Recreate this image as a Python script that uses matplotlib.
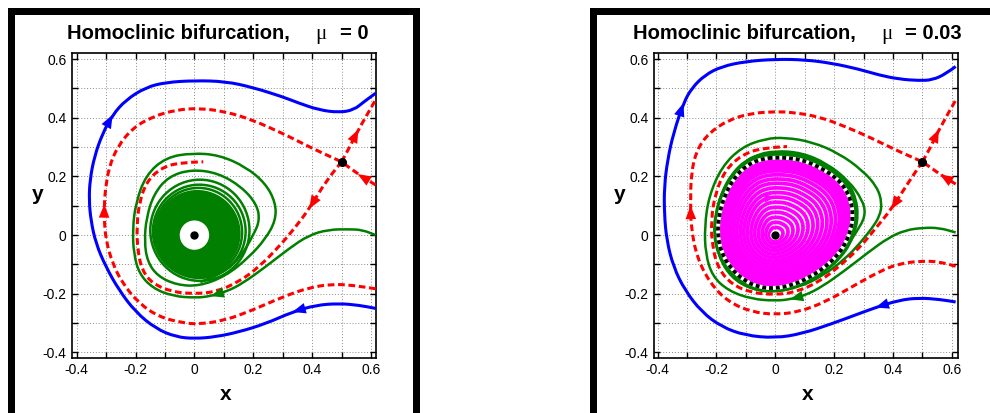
import numpy as np
import matplotlib
matplotlib.use("Agg")
import matplotlib.pyplot as plt
from matplotlib.path import Path
from matplotlib.patches import PathPatch, Ellipse, Circle, Rectangle

plt.rcParams['font.family'] = ['Liberation Sans', 'DejaVu Sans']
plt.rcParams['axes.unicode_minus'] = False

# ---------------------------------------------------------------- data
MU_LABELS = ["0", "0.03"]
TICKS = [-0.4, -0.3, -0.2, -0.1, 0.0, 0.1, 0.2, 0.3, 0.4, 0.5, 0.6]
TICK_LABELS = ["-0.4", "", "-0.2", "", "0", "", "0.2", "", "0.4", "", "0.6"]
SADDLE = (0.5, 0.25)
FOCUS = (0.0, 0.0)

# mu = 0 -------------------------------------------------------------
P1_BLUE = [(0.616, -0.250), (0.559, -0.239), (0.491, -0.233), (0.412, -0.239),
           (0.333, -0.262), (0.242, -0.302), (0.152, -0.330), (0.072, -0.347),
           (0.000, -0.353), (-0.063, -0.347), (-0.131, -0.319), (-0.200, -0.262),
           (-0.256, -0.188), (-0.301, -0.108), (-0.335, -0.028), (-0.352, 0.051),
           (-0.358, 0.120), (-0.355, 0.188), (-0.340, 0.268), (-0.312, 0.347),
           (-0.278, 0.410), (-0.233, 0.461), (-0.165, 0.504), (-0.097, 0.521),
           (0.000, 0.527), (0.106, 0.524), (0.197, 0.504), (0.299, 0.472),
           (0.355, 0.450), (0.423, 0.427), (0.491, 0.418), (0.542, 0.427),
           (0.576, 0.455), (0.616, 0.484)]
P1_BLUE_ARROWS = [4, 20]

P1_RED_STABLE_OUTER = [(0.616, -0.183), (0.537, -0.171), (0.469, -0.167), (0.389, -0.179),
                       (0.299, -0.211), (0.197, -0.256), (0.106, -0.290), (0.016, -0.304),
                       (-0.041, -0.299), (-0.120, -0.279), (-0.188, -0.233), (-0.244, -0.165),
                       (-0.278, -0.097), (-0.301, -0.017), (-0.307, 0.060), (-0.306, 0.105),
                       (-0.303, 0.154), (-0.290, 0.233), (-0.261, 0.302), (-0.211, 0.364),
                       (-0.143, 0.404), (-0.063, 0.427), (0.016, 0.433), (0.106, 0.421),
                       (0.197, 0.393), (0.299, 0.347), (0.355, 0.319), (0.423, 0.285),
                       (0.500, 0.250)]
P1_RED_STABLE_OUTER_ARROWS = [15]
P1_RED_STABLE_RIGHT = [(0.616, 0.171), (0.555, 0.208), (0.500, 0.250)]
P1_RED_UNSTABLE_UP = [(0.500, 0.250), (0.530, 0.305), (0.557, 0.360), (0.616, 0.462)]
P1_RED_UNSTABLE_IN = [(0.500, 0.250), (0.446, 0.182), (0.390, 0.090), (0.344, 0.028),
                      (0.287, -0.040), (0.220, -0.108), (0.152, -0.159), (0.072, -0.194),
                      (0.000, -0.200), (-0.075, -0.194), (-0.143, -0.165), (-0.178, -0.120),
                      (-0.193, -0.051), (-0.196, 0.028), (-0.188, 0.108), (-0.163, 0.182),
                      (-0.115, 0.228), (-0.052, 0.248), (0.030, 0.250)]

P1_GREEN = [(0.616, 0.000), (0.570, 0.018), (0.525, 0.020), (0.457, 0.019),
            (0.389, 0.000), (0.321, -0.046), (0.242, -0.108), (0.163, -0.165),
            (0.110, -0.192), (0.055, -0.208), (0.005, -0.214), (-0.075, -0.208),
            (-0.143, -0.180), (-0.188, -0.131), (-0.206, -0.063), (-0.210, 0.017),
            (-0.200, 0.108), (-0.165, 0.205), (-0.097, 0.265), (-0.007, 0.280),
            (0.084, 0.273), (0.174, 0.233), (0.242, 0.176), (0.276, 0.110),
            (0.276, 0.050), (0.242, -0.012), (0.186, -0.075), (0.106, -0.140),
            (0.016, -0.174), (-0.060, -0.170), (-0.125, -0.140), (-0.160, -0.090),
            (-0.170, -0.020), (-0.163, 0.060), (-0.138, 0.140), (-0.088, 0.200),
            (-0.010, 0.224), (0.080, 0.212), (0.160, 0.165), (0.212, 0.105),
            (0.222, 0.050), (0.200, 0.000), (0.160, -0.070), (0.100, -0.130),
            (0.020, -0.160)]
P1_GREEN_ARROWS = [9]
# inner turns of the green spiral (extents of each turn)
P1_TURN_LEFT = [-0.154, -0.145, -0.139]
P1_TURN_RIGHT = [0.191, 0.178, 0.166]
P1_TURN_BOTTOM = [-0.160, -0.150, -0.146]
P1_TURN_TOP = [0.193, 0.176, 0.165]
# densely wound core: outer extent and the empty disc round the focus
P1_CORE = (-0.137, 0.157, -0.142, 0.154)
P1_HOLE_R = 0.050

# mu = 0.03 ----------------------------------------------------------
P2_BLUE = [(0.613, -0.228), (0.557, -0.219), (0.488, -0.214), (0.420, -0.222),
           (0.341, -0.247), (0.284, -0.268), (0.193, -0.302), (0.091, -0.336),
           (0.000, -0.351), (-0.102, -0.342), (-0.182, -0.313), (-0.250, -0.262),
           (-0.307, -0.188), (-0.346, -0.108), (-0.369, -0.017), (-0.377, 0.074),
           (-0.377, 0.165), (-0.366, 0.256), (-0.346, 0.347), (-0.312, 0.450),
           (-0.284, 0.501), (-0.239, 0.546), (-0.182, 0.575), (-0.102, 0.592),
           (0.000, 0.600), (0.102, 0.598), (0.193, 0.586), (0.284, 0.566),
           (0.352, 0.546), (0.420, 0.532), (0.488, 0.527), (0.534, 0.529),
           (0.580, 0.550), (0.613, 0.575)]
P2_BLUE_ARROWS = [4, 19]

P2_RED_STABLE_OUTER = [(0.613, -0.106), (0.557, -0.091), (0.500, -0.088), (0.420, -0.097),
                       (0.352, -0.125), (0.261, -0.176), (0.170, -0.228), (0.080, -0.262),
                       (0.000, -0.271), (-0.080, -0.262), (-0.159, -0.228), (-0.221, -0.165),
                       (-0.267, -0.074), (-0.286, 0.028), (-0.288, 0.100), (-0.286, 0.211),
                       (-0.267, 0.290), (-0.227, 0.347), (-0.159, 0.393), (-0.080, 0.416),
                       (0.000, 0.421), (0.057, 0.419), (0.148, 0.404), (0.239, 0.370),
                       (0.329, 0.330), (0.420, 0.285), (0.500, 0.250)]
P2_RED_STABLE_OUTER_ARROWS = [14]
P2_RED_STABLE_RIGHT = [(0.613, 0.174), (0.560, 0.207), (0.500, 0.250)]
P2_RED_UNSTABLE_UP = [(0.500, 0.250), (0.528, 0.300), (0.556, 0.360), (0.613, 0.460)]
P2_RED_UNSTABLE_IN = [(0.500, 0.250), (0.454, 0.182), (0.394, 0.088), (0.341, 0.023),
                      (0.284, -0.046), (0.216, -0.108), (0.148, -0.160), (0.068, -0.195),
                      (0.000, -0.203), (-0.080, -0.197), (-0.148, -0.168), (-0.193, -0.115),
                      (-0.214, -0.040), (-0.218, 0.051), (-0.204, 0.142), (-0.170, 0.222),
                      (-0.114, 0.273), (-0.045, 0.298), (0.040, 0.302)]

P2_GREEN = [(0.613, 0.009), (0.557, 0.025), (0.500, 0.025), (0.443, 0.017),
            (0.386, -0.008), (0.318, -0.057), (0.239, -0.119), (0.159, -0.176),
            (0.100, -0.206), (0.050, -0.219), (0.000, -0.224), (-0.080, -0.218),
            (-0.159, -0.190), (-0.214, -0.140), (-0.237, -0.063), (-0.240, 0.028),
            (-0.226, 0.131), (-0.182, 0.233), (-0.114, 0.300), (-0.034, 0.329),
            (0.034, 0.333), (0.125, 0.318), (0.216, 0.279), (0.295, 0.222),
            (0.346, 0.165), (0.363, 0.110), (0.355, 0.065), (0.330, 0.025),
            (0.290, -0.025), (0.239, -0.080), (0.160, -0.140), (0.080, -0.178),
            (0.000, -0.193), (-0.080, -0.186), (-0.150, -0.145), (-0.195, -0.070),
            (-0.207, 0.030), (-0.190, 0.130), (-0.140, 0.220), (-0.070, 0.272),
            (0.000, 0.288), (0.090, 0.281), (0.175, 0.245), (0.250, 0.185),
            (0.296, 0.120), (0.307, 0.075), (0.290, 0.030), (0.255, -0.020)]
P2_GREEN_ARROWS = [9]

# stable limit cycle (clockwise from the top)
P2_CYCLE = [(0.000, 0.265), (0.060, 0.262), (0.110, 0.250), (0.160, 0.226),
            (0.205, 0.197), (0.238, 0.160), (0.258, 0.115), (0.264, 0.065),
            (0.257, 0.020), (0.238, -0.030), (0.210, -0.070), (0.170, -0.108),
            (0.120, -0.142), (0.060, -0.170), (0.000, -0.182), (-0.055, -0.178),
            (-0.105, -0.155), (-0.150, -0.115), (-0.183, -0.060), (-0.196, 0.000),
            (-0.192, 0.065), (-0.172, 0.135), (-0.140, 0.195), (-0.095, 0.240),
            (-0.045, 0.260)]
# turns approaching the cycle from outside / inside (relative size)
P2_OUTER_TURNS = [1.065, 1.050, 1.038, 1.028]
P2_INNER_TURNS = [0.100, 0.165, 0.230, 0.295, 0.360, 0.425, 0.490, 0.550, 0.610,
                  0.670, 0.725, 0.780, 0.830, 0.870, 0.905, 0.935, 0.955, 0.970, 0.985]
P2_INNER_ARROW_TURN = 6
P2_HOLE_R = 0.017

# ---------------------------------------------------------------- style
BLUE = "#0000ff"
RED = "#ff0000"
GREEN = "#007f00"
MAGENTA = "#ff00ff"
W, H = 990, 413


def smooth_path(pts, closed=False):
    p = np.asarray(pts, float)
    if closed:
        mids = 0.5 * (p + np.roll(p, -1, axis=0))
        verts = [mids[-1]]
        codes = [Path.MOVETO]
        for i in range(len(p)):
            verts += [p[i], mids[i]]
            codes += [Path.CURVE3, Path.CURVE3]
        return Path(verts, codes)
    if len(p) == 2:
        return Path([p[0], p[1]], [Path.MOVETO, Path.LINETO])
    verts = [p[0], 0.5 * (p[0] + p[1])]
    codes = [Path.MOVETO, Path.LINETO]
    n = len(p)
    for i in range(1, n - 1):
        end = 0.5 * (p[i] + p[i + 1]) if i < n - 2 else p[i + 1]
        verts += [p[i], end]
        codes += [Path.CURVE3, Path.CURVE3]
    return Path(verts, codes)


def curve(ax, pts, color, lw, dashed=False, closed=False, z=3):
    ls = (0, (2.2, 1.2)) if dashed else "solid"
    ax.add_patch(PathPatch(smooth_path(pts, closed), fill=False, edgecolor=color,
                           lw=lw, linestyle=ls, zorder=z, joinstyle="round"))


def arrow(ax, pts, i, color, size=16, z=6):
    tip = np.array(pts[i], float)
    prev = np.array(pts[i - 1], float)
    d = tip - prev
    d /= np.hypot(*d)
    ax.annotate("", xy=tip, xytext=tip - 0.035 * d, zorder=z,
                arrowprops=dict(arrowstyle="-|>,head_length=0.6,head_width=0.24",
                                color=color, lw=0.0, shrinkA=0, shrinkB=0,
                                mutation_scale=size))


def scaled(shape, s):
    return [(s * x, s * y) for x, y in shape]


def setup_axes(ax, xlim, ylim):
    ax.set_xlim(*xlim)
    ax.set_ylim(*ylim)
    ax.set_xticks(TICKS)
    ax.set_yticks(TICKS)
    ax.set_xticklabels(TICK_LABELS)
    ax.set_yticklabels(TICK_LABELS)
    ax.tick_params(direction="in", length=4, width=1.0, top=True, right=True,
                   labelsize=10, pad=4)
    ax.grid(True, linestyle=(0, (1, 2)), color="#8c8c8c", lw=0.7)
    ax.set_axisbelow(True)
    for s in ax.spines.values():
        s.set_linewidth(1.2)


fig = plt.figure(figsize=(W / 100, H / 100), dpi=100)
ax1 = fig.add_axes([72.3 / W, 1 - 357.7 / H, (375.7 - 72.3) / W, (357.7 - 53.3) / H])
ax2 = fig.add_axes([654.0 / W, 1 - 357.7 / H, (958.3 - 654.0) / W, (357.7 - 53.3) / H])
setup_axes(ax1, (-0.415, 0.616), (-0.418, 0.620))
setup_axes(ax2, (-0.412, 0.622), (-0.418, 0.620))

# ---------------------------------------------------------------- mu = 0
ax = ax1
curve(ax, P1_BLUE, BLUE, 2.2)
for i in P1_BLUE_ARROWS:
    arrow(ax, P1_BLUE, i, BLUE)
# dense core of the spiral
l, r, b, t = P1_CORE
ax.add_patch(Ellipse(((l + r) / 2, (b + t) / 2), r - l, t - b, fc=GREEN, ec="none", zorder=3))
ax.add_patch(Circle(FOCUS, P1_HOLE_R, fc="white", ec="none", zorder=3.5))
for l, r, b, t in zip(P1_TURN_LEFT, P1_TURN_RIGHT, P1_TURN_BOTTOM, P1_TURN_TOP):
    ax.add_patch(Ellipse(((l + r) / 2, (b + t) / 2), r - l - 0.008, t - b - 0.008,
                         fill=False, ec=GREEN, lw=1.8, zorder=3))
curve(ax, P1_GREEN, GREEN, 1.8)
for i in P1_GREEN_ARROWS:
    arrow(ax, P1_GREEN, i, GREEN)
curve(ax, P1_RED_STABLE_OUTER, RED, 2.2, dashed=True, z=4)
curve(ax, P1_RED_STABLE_RIGHT, RED, 2.2, dashed=True, z=4)
curve(ax, P1_RED_UNSTABLE_UP, RED, 2.2, dashed=True, z=4)
curve(ax, P1_RED_UNSTABLE_IN, RED, 2.2, dashed=True, z=4)
for i in P1_RED_STABLE_OUTER_ARROWS:
    arrow(ax, P1_RED_STABLE_OUTER, i, RED)
arrow(ax, P1_RED_STABLE_RIGHT, 1, RED)
arrow(ax, P1_RED_UNSTABLE_UP, 2, RED)
arrow(ax, P1_RED_UNSTABLE_IN, 2, RED)
ax.plot(*FOCUS, "o", color="k", ms=5, zorder=8)
ax.plot(*SADDLE, "o", color="k", ms=5.5, zorder=8)

# ---------------------------------------------------------------- mu = 0.03
ax = ax2
curve(ax, P2_BLUE, BLUE, 2.2)
for i in P2_BLUE_ARROWS:
    arrow(ax, P2_BLUE, i, BLUE)
for s in P2_INNER_TURNS:
    curve(ax, scaled(P2_CYCLE, s), MAGENTA, 2.7, closed=True, z=3)
arrow(ax, scaled(P2_CYCLE, P2_INNER_TURNS[P2_INNER_ARROW_TURN]), 0, MAGENTA, size=13)
for s in P2_OUTER_TURNS:
    curve(ax, scaled(P2_CYCLE, s), GREEN, 1.8, closed=True, z=3)
curve(ax, P2_GREEN, GREEN, 1.8)
for i in P2_GREEN_ARROWS:
    arrow(ax, P2_GREEN, i, GREEN)
curve(ax, P2_RED_STABLE_OUTER, RED, 2.2, dashed=True, z=4)
curve(ax, P2_RED_STABLE_RIGHT, RED, 2.2, dashed=True, z=4)
curve(ax, P2_RED_UNSTABLE_UP, RED, 2.2, dashed=True, z=4)
curve(ax, P2_RED_UNSTABLE_IN, RED, 2.2, dashed=True, z=4)
for i in P2_RED_STABLE_OUTER_ARROWS:
    arrow(ax, P2_RED_STABLE_OUTER, i, RED)
arrow(ax, P2_RED_STABLE_RIGHT, 1, RED)
arrow(ax, P2_RED_UNSTABLE_UP, 2, RED)
arrow(ax, P2_RED_UNSTABLE_IN, 2, RED)
# limit cycle: white under-stroke with black dots on top
ax.add_patch(PathPatch(smooth_path(P2_CYCLE, True), fill=False, ec="white", lw=2.8, zorder=5))
ax.add_patch(PathPatch(smooth_path(P2_CYCLE, True), fill=False, ec="black", lw=2.8,
                       linestyle=(0, (1.0, 0.75)), zorder=5.5))
ax.add_patch(Circle(FOCUS, P2_HOLE_R, fc="white", ec="none", zorder=7))
ax.plot(*FOCUS, "o", color="k", ms=5, zorder=8)
ax.plot(*SADDLE, "o", color="k", ms=5.5, zorder=8)

# ---------------------------------------------------------------- titles and labels
def ftext(px, py, s, **kw):
    fig.text(px / W, 1 - py / H, s, ha=kw.pop("ha", "left"), va=kw.pop("va", "baseline"), **kw)


for x0, xmu, xeq, mu in [(67, 315, 340, MU_LABELS[0]), (633.3, 881.7, 905, MU_LABELS[1])]:
    ftext(x0, 39.3, "Homoclinic bifurcation,", fontsize=14.5, fontweight="bold")
    ftext(xmu, 39.3, "\u03bc", fontsize=15, family=["Liberation Serif", "DejaVu Serif"])
    ftext(xeq, 39.3, "= " + mu, fontsize=14.5, fontweight="bold")

for xc, yc in [(226, 38), (807.7, 619.7)]:
    ftext(xc, 400, "x", fontsize=15, fontweight="bold", ha="center")
    ftext(yc, 200, "y", fontsize=15, fontweight="bold", ha="center")

# panel frames
for x0, y0, x1, y1 in [(8, 8, 15, H), (8, 8, 419.5, 15), (412.5, 8, 419.5, H),
                       (590, 8, 597, H), (590, 8, W, 15)]:
    fig.add_artist(Rectangle((x0 / W, 1 - y1 / H), (x1 - x0) / W, (y1 - y0) / H,
                             transform=fig.transFigure, fc="black", ec="none"))

fig.savefig("out.png", dpi=100)
